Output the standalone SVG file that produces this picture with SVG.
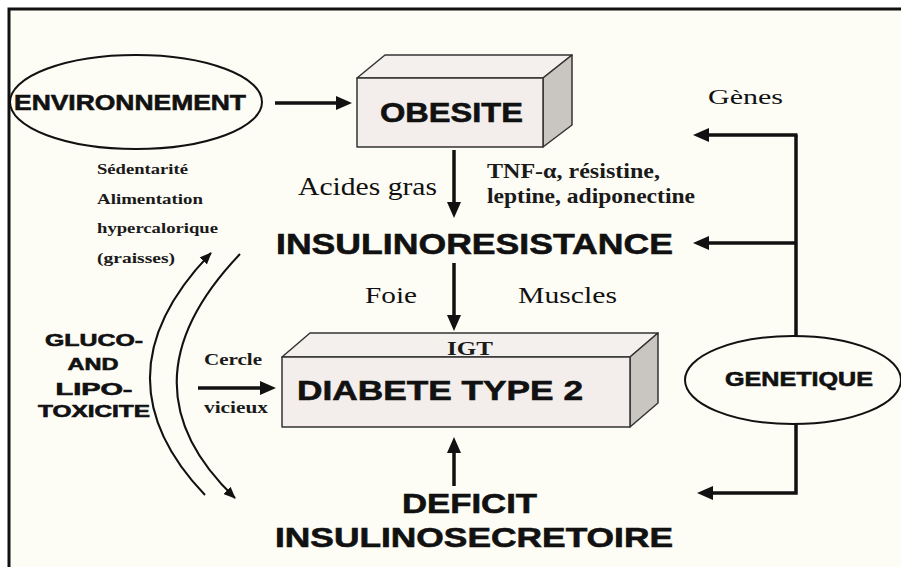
<svg xmlns="http://www.w3.org/2000/svg" width="901" height="567" viewBox="0 0 901 567">
<style>
.bg{fill:#fdfcf5}
.frame{fill:none;stroke:#111;stroke-width:3}
.ell{fill:#fdfcf5;stroke:#111;stroke-width:2}
.front{fill:#f3eeeb;stroke:#333;stroke-width:1.5;stroke-linejoin:round}
.top{fill:#f4f0ee;stroke:#333;stroke-width:1.5;stroke-linejoin:round}
.side{fill:#c9c5c1;stroke:#333;stroke-width:1.5;stroke-linejoin:round}
.sb{font-family:"Liberation Sans",Arial,sans-serif;font-weight:bold;fill:#111;stroke:#111;stroke-width:0.6}
.sr{font-family:"Liberation Serif","Times New Roman",serif;fill:#111}
.srb{font-family:"Liberation Serif","Times New Roman",serif;font-weight:bold;fill:#1a1a1a}
.conn{fill:none;stroke:#111;stroke-width:3.5}
.curve{fill:none;stroke:#111;stroke-width:2}
</style>
<defs>
<marker id="ah" viewBox="0 0 16 14" refX="1" refY="7" markerWidth="16" markerHeight="14" markerUnits="userSpaceOnUse" orient="auto">
<path d="M0,0 L16,7 L0,14 z" fill="#111"/>
</marker>
<marker id="ahs" viewBox="0 0 12 10" refX="11" refY="5" markerWidth="12" markerHeight="10" markerUnits="userSpaceOnUse" orient="auto">
<path d="M0,0 L12,5 L0,10 z" fill="#111"/>
</marker>
</defs>
<rect x="0" y="0" width="901" height="567" fill="#ffffff"/>
<rect x="9" y="9" width="892" height="558" class="bg"/>
<path class="frame" d="M9,567 V9 H901"/>

<g id="environnement">
<ellipse class="ell" cx="136" cy="102" rx="126" ry="47"/>
<text class="sb" x="14" y="110" font-size="22" textLength="232" lengthAdjust="spacingAndGlyphs">ENVIRONNEMENT</text>
</g>

<g id="environnement-notes">
<text class="srb" x="97" y="174" font-size="15" textLength="91" lengthAdjust="spacingAndGlyphs">Sédentarité</text>
<text class="srb" x="97" y="204" font-size="15" textLength="106" lengthAdjust="spacingAndGlyphs">Alimentation</text>
<text class="srb" x="97" y="233" font-size="15" textLength="121" lengthAdjust="spacingAndGlyphs">hypercalorique</text>
<text class="srb" x="97" y="263" font-size="15" textLength="78" lengthAdjust="spacingAndGlyphs">(graisses)</text>
</g>

<g id="obesite">
<polygon class="top" points="357,78 385,55 572,55 543,78"/>
<polygon class="side" points="543,78 572,55 572,125 543,147"/>
<rect class="front" x="357" y="78" width="186" height="69"/>
<text class="sb" x="380" y="122" font-size="28" textLength="143" lengthAdjust="spacingAndGlyphs">OBESITE</text>
</g>

<g id="insulinoresistance">
<text class="sb" x="276" y="254" font-size="30" textLength="397" lengthAdjust="spacingAndGlyphs">INSULINORESISTANCE</text>
</g>

<g id="diabete">
<polygon class="top" points="282,357 310,333 658,333 630,357"/>
<polygon class="side" points="630,357 658,333 658,403 630,427"/>
<rect class="front" x="282" y="357" width="348" height="70"/>
<text class="srb" x="447" y="355" font-size="18" textLength="46" lengthAdjust="spacingAndGlyphs">IGT</text>
<text class="sb" x="297" y="400" font-size="28" textLength="286" lengthAdjust="spacingAndGlyphs">DIABETE TYPE 2</text>
</g>

<g id="deficit">
<text class="sb" x="402" y="513" font-size="28" textLength="135" lengthAdjust="spacingAndGlyphs">DEFICIT</text>
<text class="sb" x="275" y="547" font-size="27" textLength="398" lengthAdjust="spacingAndGlyphs">INSULINOSECRETOIRE</text>
</g>

<g id="genetique">
<ellipse class="ell" cx="793" cy="380" rx="108" ry="44"/>
<text class="sb" x="725" y="386" font-size="20" textLength="148" lengthAdjust="spacingAndGlyphs">GENETIQUE</text>
</g>

<g id="glucotoxicite">
<text class="sb" x="94" y="346" font-size="17" text-anchor="middle" textLength="98" lengthAdjust="spacingAndGlyphs">GLUCO-</text>
<text class="sb" x="93" y="370" font-size="17" text-anchor="middle" textLength="51" lengthAdjust="spacingAndGlyphs">AND</text>
<text class="sb" x="94" y="395" font-size="17" text-anchor="middle" textLength="77" lengthAdjust="spacingAndGlyphs">LIPO-</text>
<text class="sb" x="94" y="417" font-size="17" text-anchor="middle" textLength="112" lengthAdjust="spacingAndGlyphs">TOXICITE</text>
</g>

<g id="labels">
<text class="sr" x="298" y="195" font-size="25" textLength="139" lengthAdjust="spacingAndGlyphs">Acides gras</text>
<text class="srb" x="487" y="178" font-size="20" textLength="173" lengthAdjust="spacingAndGlyphs">TNF-α, résistine,</text>
<text class="srb" x="487" y="203" font-size="20" textLength="208" lengthAdjust="spacingAndGlyphs">leptine, adiponectine</text>
<text class="sr" x="365" y="303" font-size="23" textLength="52" lengthAdjust="spacingAndGlyphs">Foie</text>
<text class="sr" x="518" y="303" font-size="23" textLength="99" lengthAdjust="spacingAndGlyphs">Muscles</text>
<text class="sr" x="708" y="104" font-size="21" textLength="75" lengthAdjust="spacingAndGlyphs">Gènes</text>
<text class="srb" x="204" y="365" font-size="16" textLength="58" lengthAdjust="spacingAndGlyphs">Cercle</text>
<text class="srb" x="204" y="413" font-size="16" textLength="64" lengthAdjust="spacingAndGlyphs">vicieux</text>
</g>

<g id="connectors">
<line class="conn" x1="275" y1="103" x2="337" y2="103" marker-end="url(#ah)"/>
<line class="conn" x1="454" y1="150" x2="454" y2="203" marker-end="url(#ah)"/>
<line class="conn" x1="454" y1="263" x2="454" y2="316" marker-end="url(#ah)"/>
<line class="conn" x1="454" y1="486" x2="454" y2="452" marker-end="url(#ah)"/>
<line class="conn" x1="198" y1="388" x2="261" y2="388" marker-end="url(#ah)"/>
<line class="conn" x1="796" y1="135" x2="796" y2="336"/>
<path class="conn" d="M797.5,135 H708" marker-end="url(#ah)"/>
<path class="conn" d="M796,243 H708" marker-end="url(#ah)"/>
<path class="conn" d="M796,424 V493 H712" marker-end="url(#ah)"/>
<path class="curve" d="M205,495 Q92,376 211,253" marker-end="url(#ahs)"/>
<path class="curve" d="M240,254 Q116,384 235,498" marker-end="url(#ahs)"/>
</g>
</svg>
